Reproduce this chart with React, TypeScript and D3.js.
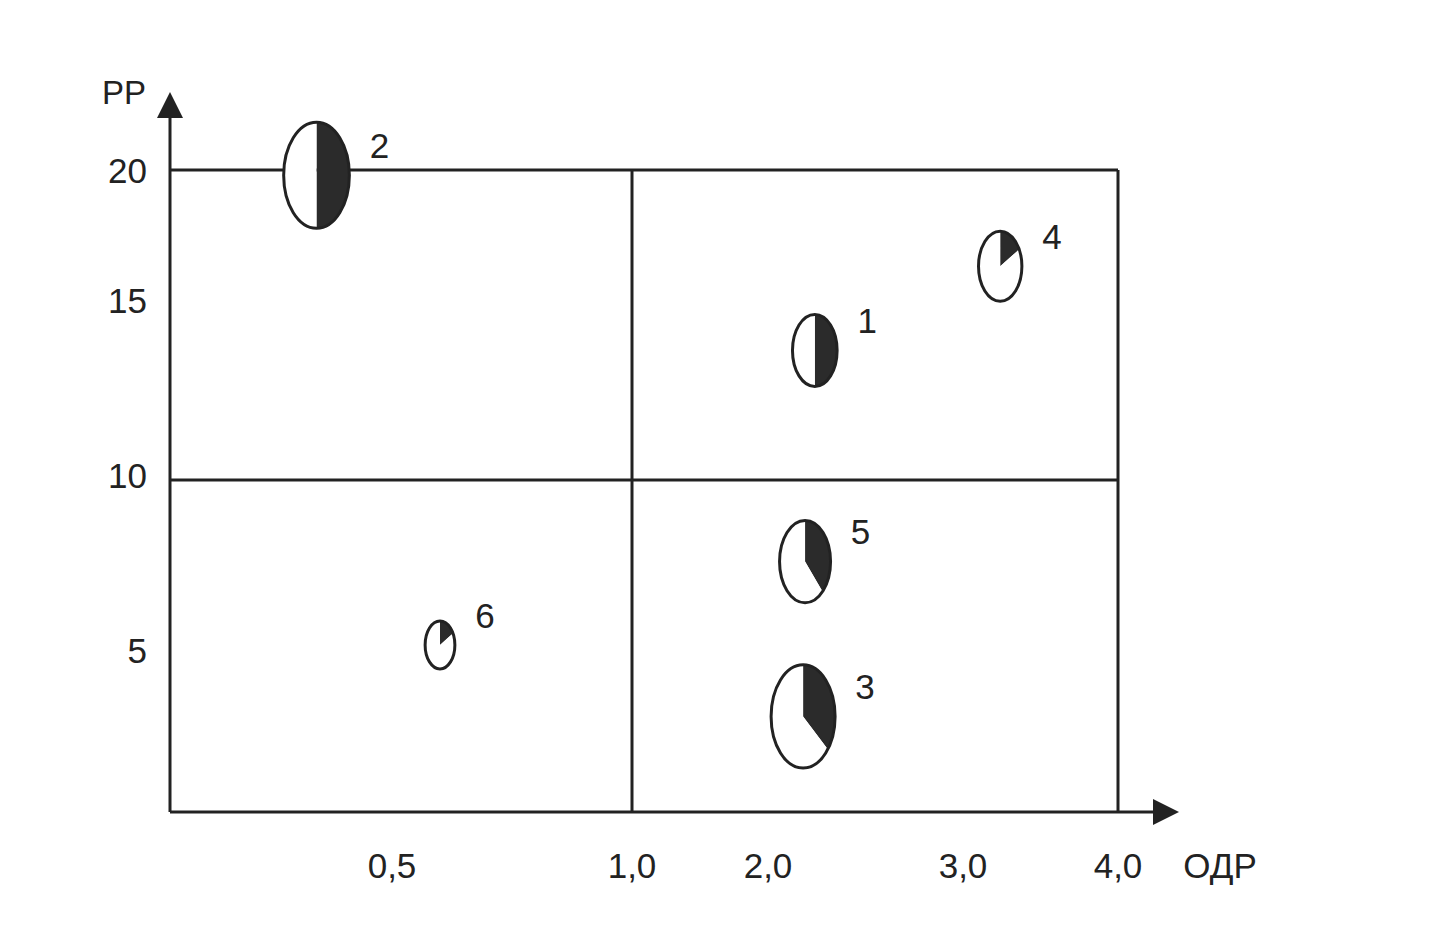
import React, { useEffect, useRef } from 'react';
import * as d3 from 'd3';

// Bubble data: relative market share (ОДР), market growth (РР), volume, dark share
const ids = ['1', '2', '3', '4', '5', '6'];
const odr = [2.24, 0.33, 2.18, 3.24, 2.19, 0.6];
const pp = [13.6, 19.8, 2.95, 16.3, 7.6, 5.15];
const volume = [36, 78, 74, 34, 47, 16];
const share = [0.5, 0.5, 0.36, 0.17, 0.38, 0.17];

const xBreaks = [0, 0.5, 1, 2, 3, 4];
const xTickValues = [0.5, 1, 2, 3, 4];
const xTickLabels = ['0,5', '1,0', '2,0', '3,0', '4,0'];
const yBreaks = [0, 5, 10, 15, 20];
const yTickValues = [5, 10, 15, 20];
const yTickLabels = ['5', '10', '15', '20'];

const W = 1449;
const H = 936;
const INK = '#222';
const FONT = '"Liberation Sans", Arial, sans-serif';

const App: React.FC = () => {
  const svgRef = useRef<SVGSVGElement>(null);

  useEffect(() => {
    if (!svgRef.current) return;
    const svg = d3.select(svgRef.current);
    svg.selectAll('*').remove();

    // piecewise scales, the original axes are not linear
    const x = d3.scaleLinear().domain(xBreaks).range([170, 392, 632, 768, 963, 1118]);
    const y = d3.scaleLinear().domain(yBreaks).range([812, 650, 480, 300, 170]);
    const r = d3.scaleSqrt().domain([0, 100]).range([0, 60]);
    const aspect = 0.62;

    const g = svg.append('g');

    // grid frame
    const lines: [number, number, number, number][] = [
      [x(0), y(20), x(4), y(20)],
      [x(0), y(10), x(4), y(10)],
      [x(1), y(20), x(1), y(0)],
      [x(4), y(20), x(4), y(0)],
      [x(0), y(0), 1165, y(0)],
      [x(0), y(0), x(0), 105],
    ];
    g.selectAll('line.frame')
      .data(lines)
      .join('line')
      .attr('class', 'frame')
      .attr('x1', d => d[0])
      .attr('y1', d => d[1])
      .attr('x2', d => d[2])
      .attr('y2', d => d[3])
      .attr('stroke', INK)
      .attr('stroke-width', 3);

    // arrows
    const ax = x(0);
    g.append('path')
      .attr('d', `M${ax},92 L${ax - 13},118 L${ax + 13},118 Z`)
      .attr('fill', INK);
    const ay = y(0);
    g.append('path')
      .attr('d', `M1179,${ay} L1153,${ay - 13} L1153,${ay + 13} Z`)
      .attr('fill', INK);

    // tick labels
    g.selectAll('text.xt')
      .data(xTickValues)
      .join('text')
      .attr('class', 'xt')
      .attr('x', d => x(d))
      .attr('y', 878)
      .attr('text-anchor', 'middle')
      .attr('font-family', FONT)
      .attr('font-size', 35)
      .attr('fill', INK)
      .text((d, i) => xTickLabels[i]);

    g.selectAll('text.yt')
      .data(yTickValues)
      .join('text')
      .attr('class', 'yt')
      .attr('x', 147)
      .attr('y', d => y(d) - (d === 10 ? 5 : 0))
      .attr('dy', '0.36em')
      .attr('text-anchor', 'end')
      .attr('font-family', FONT)
      .attr('font-size', 35)
      .attr('fill', INK)
      .text((d, i) => yTickLabels[i]);

    g.append('text')
      .attr('x', 124)
      .attr('y', 92)
      .attr('dy', '0.36em')
      .attr('text-anchor', 'middle')
      .attr('font-family', FONT)
      .attr('font-size', 33)
      .attr('fill', INK)
      .text('РР');

    g.append('text')
      .attr('x', 1220)
      .attr('y', 878)
      .attr('text-anchor', 'middle')
      .attr('font-family', FONT)
      .attr('font-size', 35)
      .attr('fill', INK)
      .text('ОДР');

    // bubbles as elliptical pies
    const pie = d3.pie<number>().sort(null).value(d => d);
    const bubbles = ids.map((id, i) => ({
      id,
      cx: x(odr[i]),
      cy: y(pp[i]),
      ry: r(volume[i]),
      share: share[i],
    }));

    const bg = g.selectAll('g.bubble')
      .data(bubbles)
      .join('g')
      .attr('class', 'bubble');

    bg.each(function (d) {
      const node = d3.select(this);
      const inner = node.append('g')
        .attr('transform', `translate(${d.cx},${d.cy}) scale(${aspect},1)`);
      const arc = d3.arc<d3.PieArcDatum<number>>().innerRadius(0).outerRadius(d.ry);
      inner.selectAll('path')
        .data(pie([d.share, 1 - d.share]))
        .join('path')
        .attr('d', arc)
        .attr('fill', (p, j) => (j === 0 ? '#2b2b2b' : '#fff'));
      inner.append('circle')
        .attr('r', d.ry)
        .attr('fill', 'none')
        .attr('stroke', INK)
        .attr('stroke-width', 3)
        .attr('vector-effect', 'non-scaling-stroke');
      node.append('text')
        .attr('x', d.cx + d.ry * aspect + 30)
        .attr('y', d.cy - 30)
        .attr('dy', '0.36em')
        .attr('text-anchor', 'middle')
        .attr('font-family', FONT)
        .attr('font-size', 35)
        .attr('fill', INK)
        .text(d.id);
    });
  }, []);

  return (
    <svg
      ref={svgRef}
      width={W}
      height={H}
      style={{ position: 'absolute', left: 0, top: 0, background: '#fff' }}
    />
  );
};

export default App;
